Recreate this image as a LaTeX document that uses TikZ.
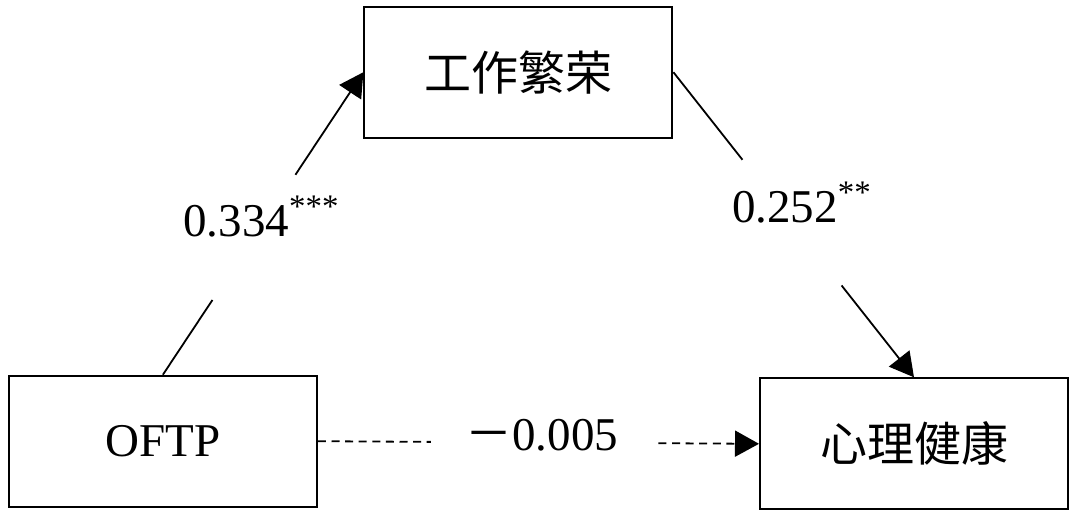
\documentclass[tikz,border=0pt]{standalone}
\usepackage{fontspec}
\setmainfont{Liberation Serif}
\newfontfamily\cjk{Noto Sans CJK SC}
\usetikzlibrary{arrows.meta, calc}
\definecolor{inkC}{HTML}{000000}
\definecolor{paperC}{HTML}{FFFFFF}

\begin{document}
\begin{tikzpicture}[
  x=0.5pt,
  y=-0.5pt,
  line cap=butt,
  line join=miter,
  varbox/.style={draw=inkC, line width=1pt, minimum width=154pt, minimum height=65.5pt, inner sep=0pt, font=\fontsize{23.5}{28}\selectfont},
  pathC/.style={inkC, line width=0.9pt},
  dashC/.style={dash pattern=on 4pt off 2.8pt},
  tipC/.style={-{Triangle[length=12pt, width=13pt]}},
  coefC/.style={anchor=base west, inner sep=0pt, font=\fontsize{23.5}{28}\selectfont}
]

\useasboundingbox[fill=paperC] (0,0) rectangle (1087,531);

% Variables
\node[varbox] (oftp) at (162.9,441.2) {OFTP};
\node[varbox] (flour) at (518.4,72.2) {\cjk 工作繁荣};
\node[varbox] (health) at (914,443.8) {\cjk 心理健康};

% Broken paths, gaps left for the coefficients
\coordinate (aBreak) at ($(oftp.north)!0.247!(flour.west)$);
\coordinate (aResume) at ($(oftp.north)!0.661!(flour.west)$);
\coordinate (bBreak) at ($(flour.east)!0.287!(health.north)$);
\coordinate (bResume) at ($(flour.east)!0.699!(health.north)$);
\coordinate (cBreak) at ($(oftp.east)!0.256!(health.west)$);
\coordinate (cResume) at ($(oftp.east)!0.772!(health.west)$);

\draw[pathC] (oftp.north) -- (aBreak);
\draw[pathC, tipC] (aResume) -- (flour.west);
\draw[pathC] (flour.east) -- (bBreak);
\draw[pathC, tipC] (bResume) -- (health.north);
\draw[pathC, dashC] (oftp.east) -- (cBreak);
\draw[pathC, dashC, tipC] (cResume) -- (health.west);

% Coefficients
\node[coefC] (aCoef) at (183,236) {0.334\textsuperscript{***}};
\node[coefC] (bCoef) at (731.7,222) {0.252\textsuperscript{**}};
\node[coefC] (cCoef) at (465,450) {{\cjk －}0.005};

\end{tikzpicture}
\end{document}
